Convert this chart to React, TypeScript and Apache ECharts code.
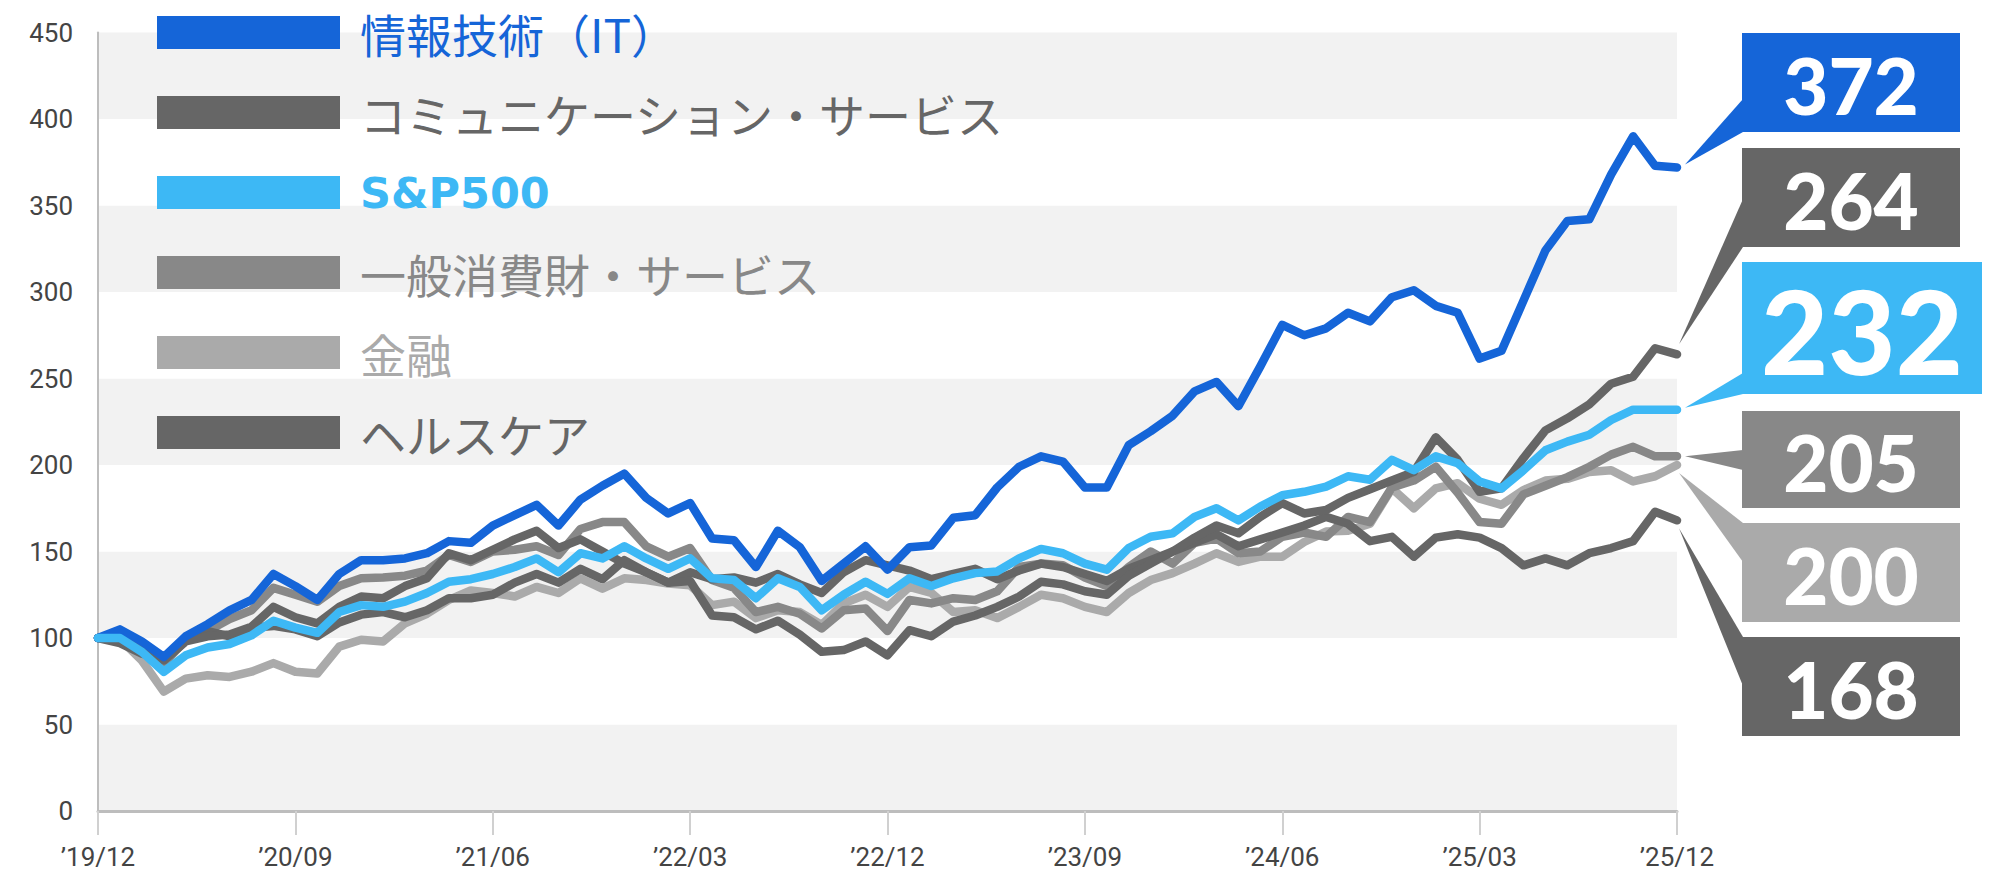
import React, { useEffect, useRef } from 'react';
import * as echarts from 'echarts';

// Month labels: Dec 2019 .. Dec 2025 (73 monthly points)
const categories: string[] = (() => {
  const out: string[] = [];
  for (let k = 0; k < 73; k++) {
    const m = ((11 + k) % 12) + 1;
    const y = 19 + Math.floor((11 + k) / 12);
    out.push(`’${y}/${String(m).padStart(2, '0')}`);
  }
  return out;
})();

const yTicks = [0, 50, 100, 150, 200, 250, 300, 350, 400, 450];

const seriesNames = ['情報技術（IT）', 'コミュニケーション・サービス', 'S&P500', '一般消費財・サービス', '金融', 'ヘルスケア'];

const itValues = [
  100, 105, 98, 89, 101, 108, 116, 122, 137, 130, 122, 137, 145, 145, 146, 149, 156, 155, 165, 171,
  177, 165, 180, 188, 195, 181, 172, 178, 157.5, 156.5, 141, 162, 152.5, 133, 143, 153, 139.5, 152.5, 153.5,
  169.5, 171, 187, 199, 205, 202, 187, 187, 211.5, 219.5, 228.5, 242.5, 248, 234, 257, 281, 275, 279, 288, 283,
  297, 301, 292, 288, 261.5, 266, 295, 324, 341, 342, 368, 390, 373, 372,
];

const commValues = [
  100, 101, 95, 87, 98, 101, 102, 106.5, 118, 112, 108.5, 118, 124, 123, 130, 134.5, 149, 145, 151, 157,
  162, 152, 157, 150, 143, 138, 132, 133, 113, 112, 105, 110, 102, 92, 93, 98, 90, 104.5, 101,
  109.5, 113, 118, 124, 132.5, 131, 127, 125, 136, 143, 150, 158, 165, 160.5, 170, 178, 172, 174, 181, 186,
  191, 196, 216, 203, 184.5, 186.5, 204, 220, 227, 235, 247, 251, 267.5, 264,
];

const spxValues = [
  100, 100, 92, 80.5, 90, 94.5, 96.5, 101.5, 110, 106, 103, 115, 119, 118, 121, 126, 132.5, 134, 137, 141,
  146, 138, 149, 146, 153, 146, 140, 146, 134.5, 133.5, 123, 134.5, 129.5, 116, 125, 132.5, 125.5, 134.5, 130,
  134.5, 137.5, 138.5, 146, 151.5, 149, 143, 139.5, 152, 158.5, 160.5, 170, 175, 168, 176, 182.5, 184.5, 187.5,
  193.5, 191.5, 203, 197, 205, 201, 190.5, 186.5, 197, 208.5, 213.5, 217.5, 226, 232, 232, 232,
];

const consValues = [
  100, 101, 95, 85, 99, 104, 111, 116, 129, 125, 121, 130, 134.5, 135, 136, 139, 148, 144, 150, 151, 153,
  148, 163, 167, 167, 153, 147, 152, 133.5, 129, 115, 118, 114, 105.5, 116, 117, 104, 122, 120, 123, 122,
  127, 141, 143, 142, 135, 130, 141, 150, 143, 155, 157.5, 149, 150, 158.5, 161, 158.5, 170, 167, 187, 191,
  199, 184, 167, 166, 183, 188, 193, 199, 206, 210.5, 205, 205,
];

const finValues = [
  100, 99.5, 87, 69, 76.5, 78.5, 77.5, 80.5, 85.5, 80.5, 79.5, 95, 99, 98, 108.5, 114, 122, 127.5, 126, 124,
  129.5, 126, 134.5, 128.5, 134.5, 133.5, 131.5, 130.5, 119, 121, 111.5, 116, 115, 107.5, 120, 125, 118, 129.5, 126,
  115, 116, 111.5, 118, 125, 123, 118, 115, 126, 133.5, 137.5, 143, 149, 144, 147, 147, 155.5, 161.5, 162, 166,
  186.5, 175, 186.5, 189.5, 180.5, 177, 185.5, 191, 192, 196, 197, 190.5, 193.5, 200,
];

const hcValues = [
  100, 97, 91, 88, 100, 104, 101, 106, 107, 105, 101, 109, 113.5, 115, 112, 116, 123, 123, 125,
  132, 137, 132, 140, 134, 145, 138, 132, 138, 134, 135, 132, 137, 131, 126, 138, 145, 142, 139, 134,
  137, 140, 134, 139, 143, 141, 137, 133, 140, 145, 150, 155, 160, 153, 157, 161, 165, 170, 166, 156,
  158.5, 147, 158, 160, 158, 152, 142, 146, 142, 149, 152, 156, 173, 168,
];

const colors = {
  it: '#1565d8',
  comm: '#666666',
  spx: '#3db8f5',
  cons: '#888888',
  fin: '#aaaaaa',
  hc: '#666666',
};

// drawing order: back to front
const seriesDefs = [
  { name: seriesNames[4], data: finValues, color: colors.fin },
  { name: seriesNames[3], data: consValues, color: colors.cons },
  { name: seriesNames[5], data: hcValues, color: colors.hc },
  { name: seriesNames[1], data: commValues, color: colors.comm },
  { name: seriesNames[0], data: itValues, color: colors.it },
  { name: seriesNames[2], data: spxValues, color: colors.spx },
];

// callout boxes on the right (layout only)
const calloutDefs = [
  { data: itValues, color: colors.it, box: [1742, 33, 218, 99], edge: [99, 132], off: [8, -3], fs: 78 },
  { data: commValues, color: colors.comm, box: [1742, 148, 218, 99], edge: [199, 247], off: [2, -10], fs: 78 },
  { data: spxValues, color: colors.spx, box: [1742, 262, 240, 132], edge: [373, 394], off: [8, -2], fs: 116 },
  { data: consValues, color: colors.cons, box: [1742, 411, 218, 97], edge: [450, 470], off: [8, 0], fs: 78 },
  { data: finValues, color: colors.fin, box: [1742, 523, 218, 99], edge: [523, 562], off: [2, 8], fs: 78 },
  { data: hcValues, color: colors.hc, box: [1742, 637, 218, 99], edge: [637, 686], off: [2, 8], fs: 78 },
];

export default function App() {
  const ref = useRef<HTMLDivElement>(null);

  useEffect(() => {
    if (!ref.current) return;
    const chart = echarts.init(ref.current, undefined, { renderer: 'svg' });

    const legendColors: Record<string, string> = {
      [seriesNames[0]]: colors.it,
      [seriesNames[1]]: colors.comm,
      [seriesNames[2]]: colors.spx,
      [seriesNames[3]]: colors.cons,
      [seriesNames[4]]: colors.fin,
      [seriesNames[5]]: colors.hc,
    };

    chart.setOption({
      animation: false,
      grid: { left: 98, right: 323, top: 32.5, bottom: 69, containLabel: false },
      legend: {
        orient: 'vertical',
        left: 152,
        top: 3.5,
        itemWidth: 183,
        itemHeight: 33,
        itemGap: 32,
        icon: 'rect',
        selectedMode: false,
        textStyle: {
          fontSize: 46,
          lineHeight: 48,
          fontFamily: '"Noto Sans CJK JP", sans-serif',
          padding: [0, 0, 0, 15],
        },
        data: seriesNames.map((n) =>
          n === 'S&P500'
            ? {
                name: n,
                textStyle: {
                  color: legendColors[n],
                  fontWeight: 'bold',
                  fontFamily: '"DejaVu Sans", sans-serif',
                  fontSize: 43,
                },
              }
            : { name: n, textStyle: { color: legendColors[n] } }
        ),
      },
      xAxis: {
        type: 'category',
        data: categories,
        boundaryGap: false,
        axisLine: { show: true, lineStyle: { color: '#bdbdbd', width: 3 } },
        axisTick: { show: true, interval: 8, length: 24, lineStyle: { color: '#d0d0d0', width: 2 } },
        axisLabel: {
          interval: 8,
          margin: 33,
          fontSize: 26,
          color: '#444',
          fontFamily: 'Roboto, sans-serif',
        },
        splitLine: { show: false },
      },
      yAxis: {
        type: 'value',
        min: 0,
        max: 450,
        interval: 50,
        axisLine: { show: true, lineStyle: { color: '#bdbdbd', width: 2 } },
        axisTick: { show: false },
        axisLabel: {
          margin: 25,
          fontSize: 26,
          color: '#444',
          fontFamily: 'Roboto, sans-serif',
          formatter: (v: number) => (yTicks.includes(v) ? String(v) : ''),
        },
        splitLine: { show: false },
        splitArea: { show: true, areaStyle: { color: ['#f2f2f2', '#ffffff'] } },
      },
      series: seriesDefs.map((s) => ({
        type: 'line',
        name: s.name,
        data: s.data,
        symbol: 'none',
        itemStyle: { color: s.color },
        lineStyle: { color: s.color, width: 8.5, cap: 'round', join: 'round' },
        emphasis: { disabled: true },
      })),
    });

    const last = categories.length - 1;
    const elements: any[] = [];
    calloutDefs.forEach((c) => {
      const v = c.data[c.data.length - 1];
      const p = chart.convertToPixel({ gridIndex: 0 } as any, [last, v]) as number[];
      const [bx, by, bw, bh] = c.box;
      elements.push({
        type: 'polygon',
        shape: {
          points: [
            [p[0] + c.off[0], p[1] + c.off[1]],
            [bx + 1, c.edge[0]],
            [bx + 1, c.edge[1]],
          ],
        },
        style: { fill: c.color },
        silent: true,
      });
      elements.push({
        type: 'rect',
        shape: { x: bx, y: by, width: bw, height: bh },
        style: { fill: c.color },
        silent: true,
      });
      elements.push({
        type: 'text',
        x: bx + bw / 2,
        y: by + bh / 2 + 2,
        style: {
          text: String(Math.round(v)),
          fill: '#ffffff',
          font: `900 ${c.fs}px Lato, "DejaVu Sans", sans-serif`,
          textAlign: 'center',
          textVerticalAlign: 'middle',
        },
        silent: true,
      });
    });
    chart.setOption({ graphic: { elements } });

    return () => chart.dispose();
  }, []);

  return (
    <div
      ref={ref}
      style={{ position: 'absolute', left: 0, top: 0, width: 2000, height: 880, background: '#ffffff' }}
    />
  );
}
